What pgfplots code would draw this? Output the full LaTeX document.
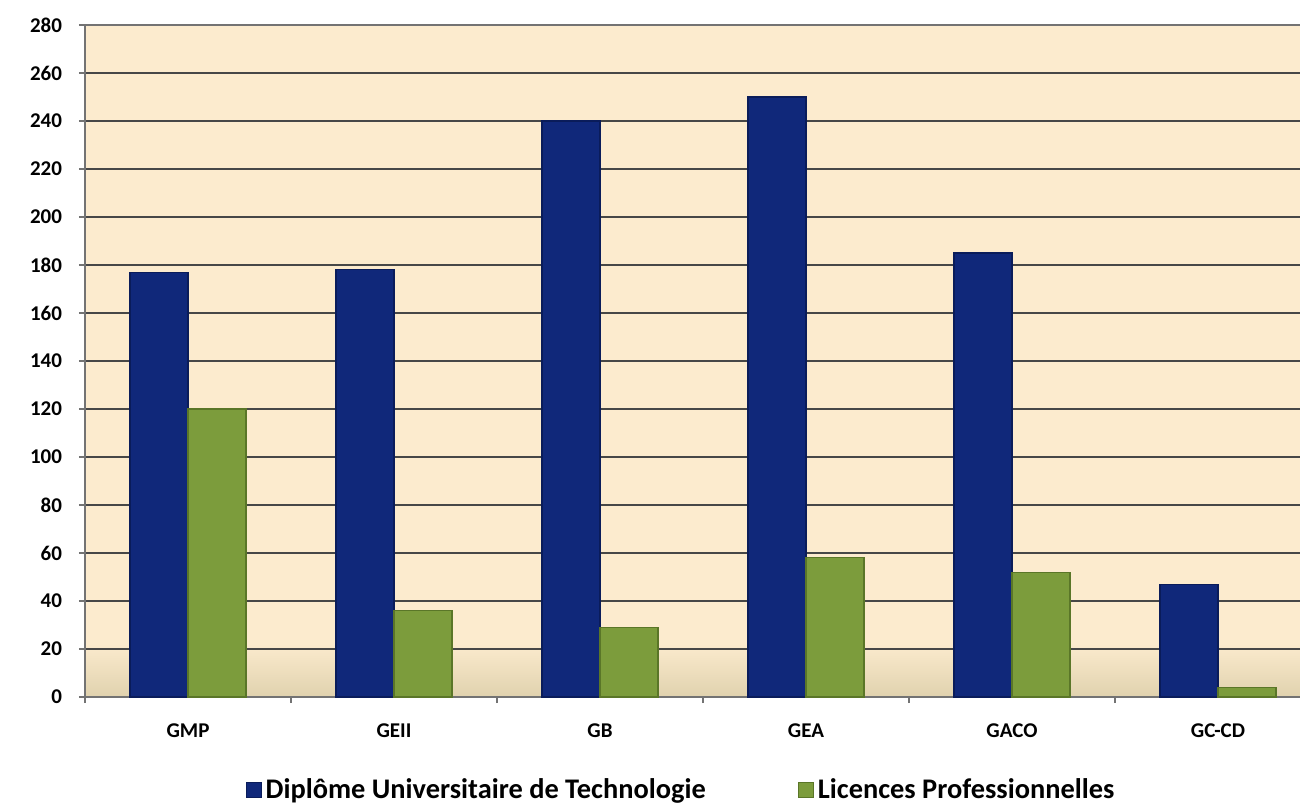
\documentclass[border=0pt]{standalone}
\usepackage{pgfplots}
\pgfplotsset{compat=1.18}
\usepackage{fontspec}
\setmainfont{Carlito}
\definecolor{dutblue}{RGB}{16,40,122}
\definecolor{dutedge}{RGB}{10,28,90}
\definecolor{lpgreen}{RGB}{124,156,60}
\definecolor{lpedge}{RGB}{90,118,40}
\definecolor{peach}{RGB}{252,235,206}
\definecolor{tanbg}{RGB}{224,210,174}
\pgfdeclareverticalshading{bgshade}{100bp}{color(0bp)=(tanbg); color(25bp)=(tanbg); color(29bp)=(peach); color(100bp)=(peach)}
\begin{document}
\begin{tikzpicture}
\useasboundingbox (-42.5pt,-53.5pt) rectangle (607.5pt,348.5pt);
\begin{axis}[
  scale only axis, width=618pt, height=336pt,
  at={(0,0)}, anchor=south west,
  xmin=-0.5, xmax=5.5, ymin=0, ymax=280,
  ytick={0,20,...,280},
  xtick={-0.5,0.5,...,5.5},
  x tick label as interval,
  xticklabels={GMP,GEII,GB,GEA,GACO,GC-CD},
  ybar=0pt, bar width=29pt,
  axis background/.style={shade, shading=bgshade},
  ymajorgrids, major grid style={black!72, line width=1.1pt},
  axis line style={black!55, line width=0.8pt},
  tick pos=left, tick align=outside, major tick length=3pt,
  tick style={black!55, line width=0.6pt},
  /pgf/number format/assume math mode=true,
  ticklabel style={font=\bfseries\fontsize{10.5}{12}\selectfont},
  yticklabel style={xshift=-5pt},
  xticklabel style={yshift=-7pt},
  legend style={at={(0.483,-0.138)}, anchor=center, draw=none, fill=none,
    legend columns=2, font=\bfseries\fontsize{14.2}{16}\selectfont,
    /tikz/every even column/.append style={column sep=44pt}},
  legend image code/.code={\fill[#1] (0pt,-3.75pt) rectangle (7.5pt,3.75pt);},
]
\addplot[fill=dutblue, draw=dutedge, line width=0.6pt] coordinates {(0,177) (1,178) (2,240) (3,250) (4,185) (5,47)};
\addplot[fill=lpgreen, draw=lpedge, line width=0.6pt] coordinates {(0,120) (1,36) (2,29) (3,58) (4,52) (5,4)};
\legend{Diplôme Universitaire de Technologie, Licences Professionnelles}
\end{axis}
\end{tikzpicture}
\end{document}
